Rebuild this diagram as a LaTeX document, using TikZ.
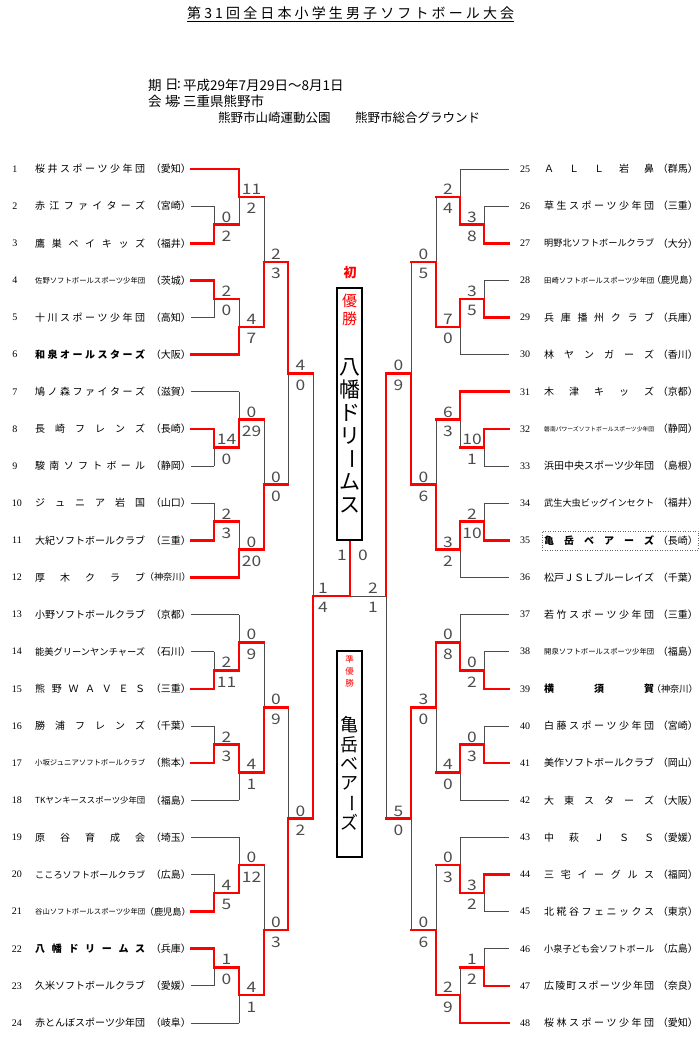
\documentclass[tikz,border=0pt]{standalone}
\usepackage{fontspec}
\usepackage{graphicx}
\setmainfont{Noto Sans CJK JP}
\newfontfamily\scfont[FakeStretch=1.2]{Noto Sans CJK JP}
\newfontfamily\numfont{Liberation Serif}
\pgfdeclarelayer{bg}
\pgfsetlayers{bg,main}
\newsavebox\nbox
\def\distloop#1{#1\distnext}
\def\distnext#1{\ifx\relax#1\else\hfill#1\expandafter\distnext\fi}
\def\bb{n}
\def\boldq{\if b\bb\bfseries\fi}
\newcommand\tname[1]{\sbox\nbox{\boldq #1}\ifdim\wd\nbox>110pt \resizebox{110pt}{!}{\usebox\nbox}\else\hbox to 110pt{\boldq\distloop#1\relax}\fi}
\newcommand\tpref[1]{\sbox\nbox{（#1）}\ifdim\wd\nbox>41pt \resizebox{46pt}{!}{\usebox\nbox}\else\usebox\nbox\fi}
\tikzset{
  gl/.style={draw=black!70, line width=0.9pt},
  rl/.style={draw=red, line width=2.6pt, line cap=rect, line join=miter},
  sc/.style={anchor=base, inner sep=0, font=\scfont\fontsize{14.5}{14.5}\selectfont, text=black!70},
  numf/.style={inner sep=0, font=\numfont\fontsize{10}{10}\selectfont},
  namef/.style={inner sep=0, font=\fontsize{10}{10}\selectfont},
  info/.style={anchor=west, inner sep=0, font=\fontsize{13.5}{13.5}\selectfont},
}
% match: xv, xn, ytop, ybot, top score, bottom score, winner t/b
\newcommand\mm[7]{%
  \pgfmathsetmacro\mmy{(#3+#4)/2}%
  \pgfmathsetmacro\msx{(#1+#2)/2}%
  \begin{pgfonlayer}{bg}\draw[gl] (#1,#3) -- (#1,#4);\end{pgfonlayer}%
  \if t#7\draw[rl] (#1,#3) -- (#1,\mmy) -- (#2,\mmy);\else\draw[rl] (#1,#4) -- (#1,\mmy) -- (#2,\mmy);\fi
  \node[sc] at (\msx,{\mmy-2.5}) {#5};
  \node[sc] at (\msx,{\mmy+16.9}) {#6};
}
\def\mmp#1#2#3#4#5/#6/#7\relax{\mm{#1}{#2}{#3}{#4}{#5}{#6}{#7}}
\def\dd{37.13}
\newcommand\grp[6]{%
  \pgfmathsetmacro\gy{#1}%
  \pgfmathsetmacro\gyA{#1+\dd}%
  \pgfmathsetmacro\gyB{#1+2*\dd}%
  \pgfmathsetmacro\gyC{#1+3*\dd}%
  \pgfmathsetmacro\gyD{#1+4*\dd}%
  \pgfmathsetmacro\gyE{#1+5*\dd}%
  \pgfmathsetmacro\gmA{#1+1.5*\dd}%
  \pgfmathsetmacro\gmB{#1+0.75*\dd}%
  \pgfmathsetmacro\gmC{#1+3.5*\dd}%
  \pgfmathsetmacro\gmD{#1+4.25*\dd}%
  \mmp{\XA}{\XB}{\gyA}{\gyB}#2\relax
  \mmp{\XB}{\XC}{\gy}{\gmA}#3\relax
  \mmp{\XA}{\XB}{\gyC}{\gyD}#4\relax
  \mmp{\XB}{\XC}{\gmC}{\gyE}#5\relax
  \mmp{\XC}{\XD}{\gmB}{\gmD}#6\relax
}
\begin{document}
\begin{tikzpicture}[x=1pt,y=-1pt]
\useasboundingbox (0,0) rectangle (700,1043);
\begin{pgfonlayer}{bg}\fill[white] (0,0) rectangle (700,1043);\end{pgfonlayer}

% ---------- header ----------
\node[anchor=west, inner sep=0, font=\fontsize{14}{14}\selectfont] (title) at (187,13)
  {\hbox to 327pt{\distloop 第31回全日本小学生男子ソフトボール大会\relax}};
\draw[line width=0.8pt] (title.west |- 0,21.5) -- (title.east |- 0,21.5);
\node[info] (i1a) at (148,85) {期};
\node[info] (i1b) at (165,85) {日};
\node[info] (i1d) at (177,85) {:};
\node[info] (i1c) at (183,85) {平成29年7月29日～8月1日};
\node[info] (i2a) at (148,101) {会};
\node[info] (i2b) at (165,101) {場};
\node[info] (i2d) at (177,101) {:};
\node[info] (i2c) at (183,101) {三重県熊野市};
\node[anchor=west, inner sep=0, font=\fontsize{12.5}{12.5}\selectfont] (i3a) at (218,118) {熊野市山崎運動公園};
\node[anchor=west, inner sep=0, font=\fontsize{12.5}{12.5}\selectfont] (i3b) at (355,118) {熊野市総合グラウンド};

% ---------- left side ----------
\def\XS{191}\def\XA{214}\def\XB{239}\def\XC{264}\def\XD{288}
\foreach \nn/\nm/\pf/\ww/\bb in {
1/桜井スポーツ少年団/愛知/1/n,
2/赤江ファイターズ/宮崎/0/n,
3/鷹巣ベイキッズ/福井/1/n,
4/佐野ソフトボールスポーツ少年団/茨城/1/n,
5/十川スポーツ少年団/高知/0/n,
6/和泉オールスターズ/大阪/1/b,
7/鳩ノ森ファイターズ/滋賀/0/n,
8/長崎フレンズ/長崎/1/n,
9/駿南ソフトボール/静岡/0/n,
10/ジュニア岩国/山口/0/n,
11/大紀ソフトボールクラブ/三重/1/n,
12/厚木クラブ/神奈川/1/n,
13/小野ソフトボールクラブ/京都/0/n,
14/能美グリーンヤンチャーズ/石川/0/n,
15/熊野ＷＡＶＥＳ/三重/1/n,
16/勝浦フレンズ/千葉/0/n,
17/小坂ジュニアソフトボールクラブ/熊本/1/n,
18/TKヤンキーススポーツ少年団/福島/0/n,
19/原谷育成会/埼玉/0/n,
20/こころソフトボールクラブ/広島/0/n,
21/谷山ソフトボールスポーツ少年団/鹿児島/1/n,
22/八幡ドリームス/兵庫/1/b,
23/久米ソフトボールクラブ/愛媛/0/n,
24/赤とんぼスポーツ少年団/岐阜/0/n}{
  \pgfmathsetmacro\yy{169+(\nn-1)*\dd}
  \pgfmathtruncatemacro\ppos{mod(\nn-1,6)}
  \ifnum\ppos=0 \def\xe{\XB}\else\ifnum\ppos=5 \def\xe{\XB}\else\def\xe{\XA}\fi\fi
  \ifnum\ww=1 \draw[rl] (\XS,\yy) -- (\xe,\yy);
  \else \begin{pgfonlayer}{bg}\draw[gl] (\XS,\yy) -- (\xe,\yy);\end{pgfonlayer}\fi
  \ifnum\nn<10 \node[numf] (n\nn) at (15,\yy) {\nn};\else \node[numf] (n\nn) at (17,\yy) {\nn};\fi
  \node[namef, anchor=west] (t\nn) at (35,\yy) {\expandafter\tname\expandafter{\nm}};
  \node[namef, anchor=east] (p\nn) at (191,\yy) {\expandafter\tpref\expandafter{\pf}};
}
\grp{169}{0/2/b}{11/2/t}{2/0/t}{4/7/b}{2/3/b}
\grp{391.78}{14/0/t}{0/29/b}{2/3/b}{0/20/b}{0/0/b}
\grp{614.56}{2/11/b}{0/9/b}{2/3/b}{4/1/t}{0/9/b}
\grp{837.34}{4/5/b}{0/12/b}{1/0/t}{4/1/t}{0/3/b}
\mm{288}{313}{261.825}{484.605}{4}{0}{t}
\mm{288}{313}{707.385}{930.165}{0}{2}{b}

% ---------- right side ----------
\def\XS{509}\def\XA{484}\def\XB{460}\def\XC{436}\def\XD{411}
\node[draw=black!60, dotted, line width=0.5pt, minimum width=156pt, minimum height=19pt, inner sep=0] (kbox) at (620,540.3) {};
\foreach \nn/\nm/\pf/\ww/\bb in {
25/ＡＬＬ岩鼻/群馬/0/n,
26/草生スポーツ少年団/三重/0/n,
27/明野北ソフトボールクラブ/大分/1/n,
28/田崎ソフトボールスポーツ少年団/鹿児島/0/n,
29/兵庫播州クラブ/兵庫/1/n,
30/林ヤンガーズ/香川/0/n,
31/木津キッズ/京都/1/n,
32/磐南パワーズソフトボールスポーツ少年団/静岡/1/n,
33/浜田中央スポーツ少年団/島根/0/n,
34/武生大虫ビッグインセクト/福井/0/n,
35/亀岳ベアーズ/長崎/1/b,
36/松戸ＪＳＬブルーレイズ/千葉/0/n,
37/若竹スポーツ少年団/三重/0/n,
38/開泉ソフトボールスポーツ少年団/福島/0/n,
39/横須賀/神奈川/1/b,
40/白藤スポーツ少年団/宮崎/0/n,
41/美作ソフトボールクラブ/岡山/1/n,
42/大東スターズ/大阪/0/n,
43/中萩ＪＳＳ/愛媛/0/n,
44/三宅イーグルス/福岡/1/n,
45/北糀谷フェニックス/東京/0/n,
46/小泉子ども会ソフトボール/広島/0/n,
47/広陵町スポーツ少年団/奈良/1/n,
48/桜林スポーツ少年団/愛知/1/n}{
  \pgfmathsetmacro\yy{169+(\nn-25)*\dd}
  \pgfmathtruncatemacro\ppos{mod(\nn-25,6)}
  \ifnum\ppos=0 \def\xe{\XB}\else\ifnum\ppos=5 \def\xe{\XB}\else\def\xe{\XA}\fi\fi
  \ifnum\ww=1 \draw[rl] (\XS,\yy) -- (\xe,\yy);
  \else \begin{pgfonlayer}{bg}\draw[gl] (\XS,\yy) -- (\xe,\yy);\end{pgfonlayer}\fi
  \node[numf] (n\nn) at (525,\yy) {\nn};
  \node[namef, anchor=west] (t\nn) at (544,\yy) {\expandafter\tname\expandafter{\nm}};
  \node[namef, anchor=east] (p\nn) at (698,\yy) {\expandafter\tpref\expandafter{\pf}};
}
\grp{169}{3/8/b}{2/4/b}{3/5/b}{7/0/t}{0/5/b}
\grp{391.78}{10/1/t}{6/3/t}{2/10/b}{3/2/t}{0/6/b}
\grp{614.56}{0/2/b}{0/8/b}{0/3/b}{4/0/t}{3/0/t}
\grp{837.34}{3/2/t}{0/3/b}{1/2/b}{2/9/b}{0/6/b}
\mm{411}{386}{261.825}{484.605}{0}{9}{b}
\mm{411}{386}{707.385}{930.165}{5}{0}{t}

% ---------- semifinals and final ----------
\begin{pgfonlayer}{bg}
\draw[gl] (313,373.215) -- (313,818.775);
\draw[gl] (386,373.215) -- (386,818.775);
\draw[gl] (386,595.995) -- (350,595.995);
\end{pgfonlayer}
\draw[rl] (313,818.775) -- (313,595.995) -- (350,595.995) -- (350,540);
\draw[rl] (386,373.215) -- (386,595.995);
\node[sc] (s1a) at (323,593.5) {1};
\node[sc] (s1b) at (323,612.9) {4};
\node[sc] (s2a) at (373,593.5) {2};
\node[sc] (s2b) at (373,612.9) {1};
\node[sc] (f1) at (342,560.3) {1};
\node[sc] (f2) at (363,560.3) {0};

% ---------- champion boxes ----------
\node[text=red, inner sep=0, font=\bfseries\fontsize{13}{13}\selectfont] (hatsu) at (350,273) {初};
\node[draw, line width=1.4pt, minimum width=25pt, minimum height=252pt, inner sep=0] (b1) at (349.5,414) {};
\node[text=red, inner sep=0, font=\fontsize{15}{15}\selectfont] (y1) at (349.5,301) {優};
\node[text=red, inner sep=0, font=\fontsize{15}{15}\selectfont] (y2) at (349.5,319) {勝};
\foreach \c [count=\i from 0] in {八,幡,ド,リ,{\rotatebox[origin=c]{-90}{ー}},ム,ス}
  \node[inner sep=0, font=\fontsize{21}{21}\selectfont] (c\i) at (349.5,367+\i*23) {\c};
\node[draw, line width=1.4pt, minimum width=25pt, minimum height=206pt, inner sep=0] (b2) at (349.5,754) {};
\foreach \c [count=\i from 0] in {準,優,勝}
  \node[text=red, inner sep=0, font=\fontsize{8.5}{8.5}\selectfont] (r\i) at (349.5,659+\i*12) {\c};
\foreach \c [count=\i from 0] in {亀,岳,ベ,ア,{\rotatebox[origin=c]{-90}{ー}},ズ}
  \node[inner sep=0, font=\fontsize{18}{18}\selectfont] (k\i) at (349.5,725+\i*19.5) {\c};
\end{tikzpicture}
\end{document}
